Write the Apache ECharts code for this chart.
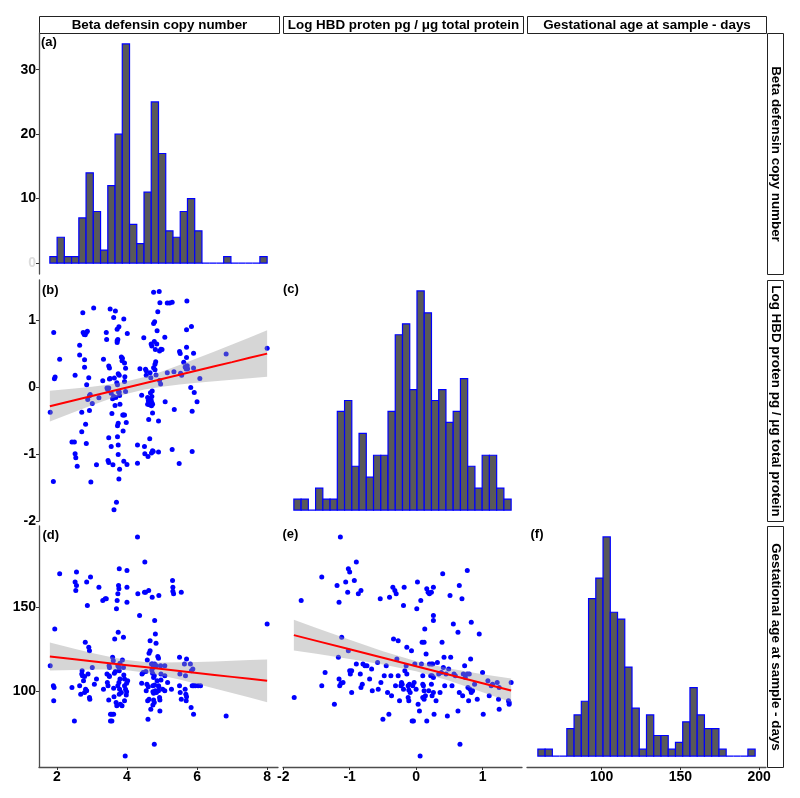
<!DOCTYPE html>
<html><head><meta charset="utf-8">
<script src="https://cdn.jsdelivr.net/npm/echarts@6/dist/echarts.min.js"></script>
<style>html,body{margin:0;padding:0;background:#fff}#c{width:800px;height:798px}</style>
</head><body><div id="c"></div>
<script>
// ---------------- DATA ----------------
const varNames = ['Beta defensin copy number', 'Log HBD proten pg / \u03bcg total protein', 'Gestational age at sample - days'];
const panelLabels = ['(a)', '(b)', '(c)', '(d)', '(e)', '(f)'];

// value ranges (data extents)
const copyRange = [1.8, 8.0];
const hbdRange = [-1.84, 1.43];
const ageRange = [61, 192];
const ageHistRange = [61.8, 195.2];

// tick labels
const countTicks = [0, 10, 20, 30];
const copyTicks = [2, 4, 6, 8];
const hbdTicks = [-2, -1, 0, 1];
const ageRowTicks = [100, 150];
const ageColTicks = [100, 150, 200];

// histogram counts (30 bins each)
const histCopyCounts = [1,4,1,1,7,14,8,2,12,20,34,6,3,11,25,17,5,4,8,10,5,0,0,0,1,0,0,0,0,1];
const histHbdCounts = [1,1,0,2,1,1,9,10,4,7,3,5,5,9,16,17,11,20,18,10,11,8,9,12,4,2,5,5,2,1];
const histAgeCounts = [1,1,0,0,4,6,8,23,26,32,21,20,13,7,1,6,3,3,1,2,5,10,6,4,4,1,0,0,0,1];

// (b) copy number vs log HBD
const bCopy = [1.81,1.90,1.91,1.93,1.95,2.08,2.52,2.43,2.50,2.52,2.54,2.58,2.65,2.65,2.71,2.71,2.75,2.74,2.78,2.81,2.84,2.87,2.79,2.79,2.82,2.84,2.85,2.88,2.91,2.93,2.95,2.93,2.97,3.01,3.05,3.13,3.20,3.31,3.33,3.41,3.42,3.43,3.45,3.48,3.48,3.48,3.50,3.50,3.52,3.46,3.48,3.52,3.55,3.57,3.59,3.62,3.55,3.60,3.62,3.64,3.63,3.67,3.70,3.66,3.68,3.71,3.73,3.72,3.74,3.72,3.72,3.77,3.73,3.75,3.73,3.75,3.75,3.77,3.79,3.75,3.78,3.76,3.78,3.79,3.80,3.84,3.87,3.86,3.88,3.90,3.93,3.89,3.91,3.91,3.93,3.94,3.93,3.96,3.96,3.98,4.00,4.01,4.30,4.30,4.37,4.42,4.48,4.50,4.51,4.53,4.55,4.55,4.59,4.61,4.59,4.64,4.60,4.65,4.62,4.66,4.68,4.67,4.69,4.71,4.70,4.73,4.75,4.72,4.71,4.69,4.71,4.73,4.70,4.76,4.76,4.79,4.73,4.76,4.80,4.78,4.80,4.82,4.83,4.86,4.81,4.85,4.88,4.90,4.90,4.92,4.94,4.93,4.97,4.93,4.96,5.00,5.08,5.09,5.15,5.22,5.29,5.15,5.29,5.34,5.35,5.49,5.50,5.52,5.53,5.56,5.62,5.66,5.69,5.70,5.70,5.70,5.71,5.72,5.73,5.84,5.82,5.86,5.86,5.90,5.90,5.92,6.00,6.08,6.83,8.00];
const bHbd = [-0.38,-1.415,0.81,0.12,0.145,0.41,0.17,-0.825,-0.825,-1.0,-1.06,-1.185,0.62,0.475,-0.38,-0.67,0.81,1.105,0.78,0.775,0.81,0.83,0.405,0.29,-0.56,-0.845,0.03,-0.19,0.135,-0.135,-0.115,-0.355,-1.42,-0.25,1.175,-1.165,-0.165,0.09,0.41,0.81,0.705,-0.02,-0.04,-0.02,-0.76,0.31,0.28,0.115,0.125,-1.10,-1.13,1.16,-0.095,-0.40,-0.18,-0.145,-0.89,-1.165,1.035,0.13,-1.835,1.13,-1.725,-0.28,-0.16,0.06,0.03,0.86,0.705,0.685,0.66,0.895,-0.58,-0.545,-0.745,-0.87,-1.01,-1.375,-1.23,0.195,0.17,-0.08,-0.08,-0.13,-0.26,0.445,0.425,0.39,-0.42,-0.42,-0.42,-0.66,1.01,-1.11,0.355,0.15,0.08,0.275,-0.07,-0.535,-1.16,0.795,-0.87,-1.14,0.27,-0.125,0.73,-0.89,-1.0,0.26,0.24,0.17,-0.16,-0.21,-0.26,-0.27,-1.04,-0.775,-0.49,0.21,0.135,-0.09,0.64,0.61,-0.99,-0.955,-0.965,-0.065,-0.145,-0.20,-0.24,-0.26,-0.285,1.41,0.945,0.97,-0.39,0.285,0.255,0.675,0.335,0.375,0.175,0.835,0.555,0.64,1.12,-0.975,-0.51,1.42,1.255,0.535,0.56,0.095,0.04,0.555,0.74,-0.225,1.25,1.25,1.26,0.21,-0.935,0.225,-0.34,-1.145,0.525,0.495,0.20,0.17,0.365,0.295,0.265,0.85,0.59,0.435,1.28,0.315,0.27,0.90,-0.01,-0.365,-0.965,0.50,0.28,-0.085,-0.225,0.125,0.49,0.575];

// (d) copy number vs gestational age
const dCopy = [1.81,1.90,1.92,1.91,1.94,2.08,2.43,2.50,2.52,2.54,2.56,2.56,2.65,2.68,2.71,2.73,2.72,2.76,2.79,2.79,2.82,2.85,2.81,2.85,2.87,2.89,2.91,2.93,2.93,2.94,2.96,3.01,3.07,3.13,3.20,3.31,3.38,3.41,3.33,3.43,3.49,3.50,3.44,3.46,3.49,3.50,3.48,3.53,3.57,3.62,3.53,3.57,3.59,3.61,3.64,3.67,3.62,3.63,3.65,3.69,3.71,3.70,3.72,3.74,3.77,3.76,3.78,3.75,3.74,3.77,3.78,3.80,3.74,3.77,3.80,3.79,3.84,3.81,3.86,3.78,3.87,3.90,3.90,3.91,3.93,3.93,3.96,3.99,3.98,3.93,3.95,4.00,4.00,4.00,3.99,4.02,4.30,4.31,4.36,4.43,4.46,4.42,4.50,4.53,4.62,4.51,4.54,4.55,4.58,4.57,4.61,4.59,4.63,4.60,4.63,4.66,4.66,4.68,4.70,4.73,4.71,4.75,4.72,4.73,4.76,4.78,4.74,4.79,4.74,4.76,4.81,4.84,4.76,4.78,4.74,4.78,4.79,4.81,4.83,4.79,4.84,4.86,4.88,4.90,4.90,4.91,4.90,4.91,4.93,4.94,4.94,4.96,4.97,4.97,5.02,5.08,5.08,5.08,5.16,5.27,5.30,5.31,5.33,5.31,5.50,5.50,5.52,5.51,5.55,5.55,5.64,5.67,5.66,5.68,5.69,5.70,5.70,5.81,5.83,5.84,5.88,5.86,5.90,5.95,5.90,6.03,6.10,6.83,8.00];
const dAge = [115,103,102,94,137,170,102,82,165,160,163,171,103,98,110,109,112,106,108.5,99,101,100,129,165,151,110,126,124,96,95,168,114,104,107,162,154,155,155,101,110,109,108.5,105,103,115,114,94.5,86,86,86,82,82,120,118,110.5,111.5,101.5,96.5,131,93,91,149,154,158,161,163,173,135,115,114,112,116.5,103,105,107,101,99,92,91,98,118.5,114,132,109.5,107,103,101,99.5,97.5,94,61,162,172,153,104.5,106,192,158,145,110,111,104.5,159,159,160,177,111.5,100,118.5,104,102.5,94,95,83,122.5,124,130,89,116,116,112.5,114,156,110.5,108,109,103,103.5,99.5,98.5,100,99,94.5,93,91.5,68,142,134,128.5,116,115,106,120.5,119.5,103,102.5,100,157,96,94.5,88,115,110,106.5,101,100,109,115,105,101,166,162,158,159.5,120,103,99,110,159,95,116,109,101,98,94,96.5,119,116,90,112,113,103,103,103,86,103,103,85,140];

// (e) log HBD vs gestational age
const eHbd = [-1.835,-1.73,-1.42,-1.42,-1.37,-1.23,-1.19,-1.17,-1.16,-1.16,-1.15,-1.13,-1.10,-1.14,-1.12,-1.06,-1.03,-1.02,-1.00,-1.02,-1.00,-0.99,-0.97,-0.97,-0.93,-0.90,-0.90,-0.87,-0.83,-0.84,-0.83,-0.81,-0.80,-0.77,-0.74,-0.70,-0.67,-0.66,-0.58,-0.57,-0.54,-0.53,-0.50,-0.48,-0.45,-0.43,-0.41,-0.40,-0.38,-0.37,-0.35,-0.32,-0.30,-0.34,-0.31,-0.29,-0.27,-0.27,-0.25,-0.23,-0.22,-0.21,-0.19,-0.19,-0.18,-0.17,-0.14,-0.15,-0.14,-0.12,-0.10,-0.11,-0.12,-0.11,-0.09,-0.07,-0.06,-0.04,-0.05,-0.03,-0.02,0.00,0.01,0.02,0.03,0.05,0.06,0.07,0.08,0.09,0.10,0.10,0.11,0.12,0.10,0.12,0.14,0.12,0.13,0.15,0.16,0.18,0.20,0.16,0.19,0.20,0.23,0.25,0.22,0.24,0.26,0.23,0.24,0.26,0.26,0.23,0.26,0.26,0.27,0.30,0.32,0.34,0.36,0.38,0.39,0.40,0.41,0.42,0.43,0.45,0.47,0.49,0.51,0.52,0.54,0.56,0.57,0.59,0.63,0.63,0.65,0.65,0.66,0.69,0.70,0.71,0.73,0.74,0.77,0.77,0.80,0.78,0.81,0.79,0.82,0.83,0.83,0.85,0.88,0.92,0.95,1.00,1.01,1.08,1.13,1.15,1.10,1.22,1.24,1.25,1.25,1.39,1.40,1.40,1.43];
const eAge = [96,154,168,103,111,92,163,120,153,107,103,104.5,105,192,132,165,159,173,171,124,112,110,112,99,166,177,116,158,160,110,102,104,116,115,115,107,113,100,117,101,155,105,83,109,115,99,86,156,109,97,162,160,158,131,103,119,130,109,94,103,105,104,101,151,162,112,110,115,126,103,104,100.5,96,94,99,124,82,82,103,105,116,101,149,165,92,88,61,154,116,129,109,104,103,100,96,95,97,129,137,122,161,159,158,82,100,116,116,116,109,109,108,104,97,99,162,159,145,142,86,94,117,110,99,111,129,170,114,120,103,110,85,113,157,120,103,140,110,109,135,88,163,99,68,155,97,110,115,108,172,110,110,102,101,94,119,141,99,100,104,95,134,111,86,106,103,104,97,105,95,89,102,94,92,93,105];

// linear fits with confidence bands
const bBandX = [1.8,2.5,3,3.5,4,4.5,5,5.5,6,6.5,7,7.5,8];
const bFit = [-0.29,-0.201,-0.138,-0.075,-0.011,0.052,0.115,0.178,0.242,0.305,0.368,0.432,0.495];
const bLo = [-0.52,-0.376,-0.277,-0.184,-0.103,-0.042,0.001,0.032,0.060,0.083,0.105,0.127,0.148];
const bHi = [-0.06,-0.026,0.001,0.034,0.081,0.146,0.229,0.324,0.424,0.527,0.631,0.737,0.842];
const dBandX = [1.8,2.5,3,3.5,4,4.5,5,5.5,6,6.5,7,7.5,8];
const dFit = [120.5,118.86,117.69,116.52,115.35,114.18,113.01,111.85,110.68,109.51,108.34,107.17,106.0];
const dLo = [112.1,112.5,112.8,112.8,112.3,111.0,109.0,106.7,104.1,101.4,98.7,96.0,93.2];
const dHi = [128.9,125.2,122.6,120.3,118.4,117.3,117.0,117.1,117.3,117.6,118.0,118.4,118.8];
const eBandX = [-1.84,-1.5,-1,-0.5,0,0.5,1,1.43];
const eFit = [133.3,129.86,124.80,119.74,114.68,109.62,104.56,100.2];
const eLo = [124.05,122.1,119.1,115.8,111.7,106.0,99.2,93.2];
const eHi = [142.55,137.6,130.5,123.7,117.7,113.3,109.9,107.3];

// ---------------- LAYOUT ----------------
const FONT = 'Liberation Sans, Arial, sans-serif';
const COLL = [39, 283, 527], ROWT = [33, 280, 526], PW = 239, PH = 241;

function expand(r) { const d = (r[1] - r[0]) * 0.05; return [r[0] - d, r[1] + d]; }
function histBins(range, counts) {
  const n = counts.length, w = (range[1] - range[0]) / (n - 1), s = range[0] - w / 2;
  return { data: counts.map((c, i) => [s + i * w, s + (i + 1) * w, c]), axis: [s - 1.5 * w, s + (n + 1.5) * w] };
}
function countAxis(counts) { const m = Math.max(...counts); return [-0.05 * m, 1.05 * m]; }

const hA = histBins(copyRange, histCopyCounts);
const hC = histBins(hbdRange, histHbdCounts);
const hF = histBins(ageHistRange, histAgeCounts);

const grids = [[0,0],[1,0],[1,1],[2,0],[2,1],[2,2]].map(([r, c]) => ({ left: COLL[c], top: ROWT[r], width: PW, height: PH, containLabel: false }));

function hidden(gi, r) { return { type: 'value', gridIndex: gi, min: r[0], max: r[1], show: false, splitLine: { show: false } }; }
function shown(gi, r, ticks, pos, colorFn) {
  return {
    type: 'value', gridIndex: gi, min: r[0], max: r[1], position: pos,
    axisLine: { show: true, onZero: false, lineStyle: { color: '#4d4d4d', width: 1.3 } },
    axisTick: { show: true, length: 3, customValues: ticks, lineStyle: { color: '#333', width: 1 } },
    axisLabel: { show: true, customValues: ticks, margin: 3, color: colorFn || '#000', fontWeight: 'bold', fontSize: 14, fontFamily: FONT },
    splitLine: { show: false }
  };
}

const xAxes = [
  hidden(0, hA.axis),
  hidden(1, expand(copyRange)),
  hidden(2, hC.axis),
  shown(3, expand(copyRange), copyTicks, 'bottom'),
  shown(4, expand(hbdRange), hbdTicks, 'bottom'),
  shown(5, hF.axis, ageColTicks, 'bottom')
];
const yAxes = [
  shown(0, countAxis(histCopyCounts), countTicks, 'left', v => (+v === 0 ? '#dcdcdc' : '#000')),
  shown(1, expand(hbdRange), hbdTicks, 'left'),
  hidden(2, countAxis(histHbdCounts)),
  shown(3, expand(ageRange), ageRowTicks, 'left'),
  hidden(4, expand(ageRange)),
  hidden(5, countAxis(histAgeCounts))
];

function histSeries(gi, data) {
  return {
    type: 'custom', xAxisIndex: gi, yAxisIndex: gi, data, silent: true, z: 2,
    renderItem: (p, api) => {
      const a = api.coord([api.value(0), api.value(2)]), b = api.coord([api.value(1), 0]);
      return { type: 'rect', shape: { x: a[0], y: a[1], width: b[0] - a[0], height: b[1] - a[1] },
        style: { fill: '#595959', stroke: '#0000FF', lineWidth: 1.2 } };
    }
  };
}
function scatterSeries(gi, xs, ys) {
  return { type: 'scatter', xAxisIndex: gi, yAxisIndex: gi, data: xs.map((x, i) => [x, ys[i]]),
    symbolSize: 5, itemStyle: { color: '#0000FF', opacity: 1 }, silent: true, z: 2 };
}
function bandSeries(gi, xs, lo, hi) {
  return {
    type: 'custom', xAxisIndex: gi, yAxisIndex: gi, data: [[xs[0], lo[0]]], silent: true, z: 3,
    renderItem: (p, api) => {
      const pts = xs.map((x, i) => api.coord([x, hi[i]])).concat(xs.map((x, i) => api.coord([x, lo[i]])).reverse());
      return { type: 'polygon', shape: { points: pts }, style: { fill: 'rgba(153,153,153,0.4)' } };
    }
  };
}
function fitSeries(gi, xs, fit) {
  return { type: 'line', xAxisIndex: gi, yAxisIndex: gi, data: xs.map((x, i) => [x, fit[i]]),
    showSymbol: false, symbol: 'none', lineStyle: { color: '#FF0000', width: 2 }, silent: true, z: 4, animation: false };
}

const series = [
  histSeries(0, hA.data),
  scatterSeries(1, bCopy, bHbd), bandSeries(1, bBandX, bLo, bHi), fitSeries(1, bBandX, bFit),
  histSeries(2, hC.data),
  scatterSeries(3, dCopy, dAge), bandSeries(3, dBandX, dLo, dHi), fitSeries(3, dBandX, dFit),
  scatterSeries(4, eHbd, eAge), bandSeries(4, eBandX, eLo, eHi), fitSeries(4, eBandX, eFit),
  histSeries(5, hF.data)
];

// strips and panel labels
const graphics = [];
const stripFont = 'bold 13.4px ' + FONT;
for (let c = 0; c < 3; c++) {
  const x0 = COLL[c] + 0.5, w = (c === 2 ? PW : 240);
  graphics.push({ type: 'rect', shape: { x: x0, y: 16.5, width: w, height: 17 }, style: { fill: '#fff', stroke: '#222', lineWidth: 1 }, silent: true });
  graphics.push({ type: 'text', x: x0 + w / 2, y: 25, style: { text: varNames[c], font: stripFont, fill: '#000', align: 'center', verticalAlign: 'middle' }, silent: true });
}
for (let r = 0; r < 3; r++) {
  const y0 = ROWT[r] + 0.5;
  graphics.push({ type: 'rect', shape: { x: 767.5, y: y0, width: 16, height: PH }, style: { fill: '#fff', stroke: '#222', lineWidth: 1 }, silent: true });
  graphics.push({ type: 'text', x: 775.5, y: y0 + PH / 2, rotation: -Math.PI / 2, style: { text: varNames[r], font: stripFont, fill: '#000', align: 'center', verticalAlign: 'middle' }, silent: true });
}
const labelPos = [[41, 42.5], [42, 290.5], [283, 289.5], [42.5, 535.5], [282.5, 534.5], [530.5, 534]];
panelLabels.forEach((t, i) => {
  graphics.push({ type: 'text', x: labelPos[i][0], y: labelPos[i][1], style: { text: t, font: 'bold 13px ' + FONT, fill: '#000', align: 'left', verticalAlign: 'middle' }, silent: true, z: 10 });
});

const chart = echarts.init(document.getElementById('c'), null, { renderer: 'canvas' });
chart.setOption({
  backgroundColor: '#fff', animation: false,
  grid: grids, xAxis: xAxes, yAxis: yAxes, series, graphic: graphics
});
</script></body></html>
